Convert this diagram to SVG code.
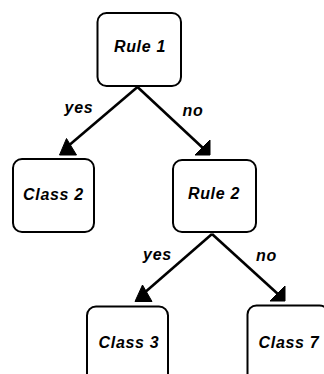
<svg xmlns="http://www.w3.org/2000/svg" width="324" height="374" viewBox="0 0 324 374">
  <style>
    .box { fill: #fff; stroke: #000; stroke-width: 2; }
    .lbl { font-family: "Liberation Sans", Arial, sans-serif; font-size: 16px; font-weight: bold; font-style: italic; letter-spacing: 0.7px; fill: #000; text-anchor: middle; }
    .edge { stroke: #000; stroke-width: 2.6; fill: none; }
    .head { fill: #000; stroke: #000; stroke-width: 1; stroke-linejoin: miter; }
  </style>
  <rect width="324" height="374" fill="#fff"/>

  <g id="connectors">
    <!-- Rule 1 -> Class 2 (yes) -->
    <line class="edge" x1="137.5" y1="87" x2="67" y2="147"/>
    <polygon class="head" points="59.5,155 76.5,155 66.5,138.5"/>
    <text class="lbl" x="79" y="113">yes</text>
    <!-- Rule 1 -> Rule 2 (no) -->
    <line class="edge" x1="137.5" y1="87" x2="204" y2="149"/>
    <polygon class="head" points="195,155 210,155 210,140"/>
    <text class="lbl" x="193" y="116">no</text>
    <!-- Rule 2 -> Class 3 (yes) -->
    <line class="edge" x1="212" y1="234" x2="143" y2="294"/>
    <polygon class="head" points="135,301.5 152,301.5 142.5,285"/>
    <text class="lbl" x="157.5" y="260">yes</text>
    <!-- Rule 2 -> Class 7 (no) -->
    <line class="edge" x1="212" y1="234" x2="279" y2="295"/>
    <polygon class="head" points="270,301 285,301 285,286"/>
    <text class="lbl" x="266.5" y="260.5">no</text>
  </g>

  <g id="rule1">
    <rect class="box" x="97.5" y="13" width="83.5" height="73" rx="9"/>
    <text class="lbl" x="140" y="52">Rule 1</text>
  </g>
  <g id="class2">
    <rect class="box" x="13" y="159" width="81" height="73" rx="9"/>
    <text class="lbl" x="53.5" y="200">Class 2</text>
  </g>
  <g id="rule2">
    <rect class="box" x="173" y="160" width="83" height="72" rx="9"/>
    <text class="lbl" x="214" y="198.5">Rule 2</text>
  </g>
  <g id="class3">
    <rect class="box" x="87" y="306.5" width="81" height="80" rx="9"/>
    <text class="lbl" x="129" y="347.5">Class 3</text>
  </g>
  <g id="class7">
    <rect class="box" x="247.5" y="305.5" width="81" height="80" rx="9"/>
    <text class="lbl" x="289" y="347.5">Class 7</text>
  </g>
</svg>
